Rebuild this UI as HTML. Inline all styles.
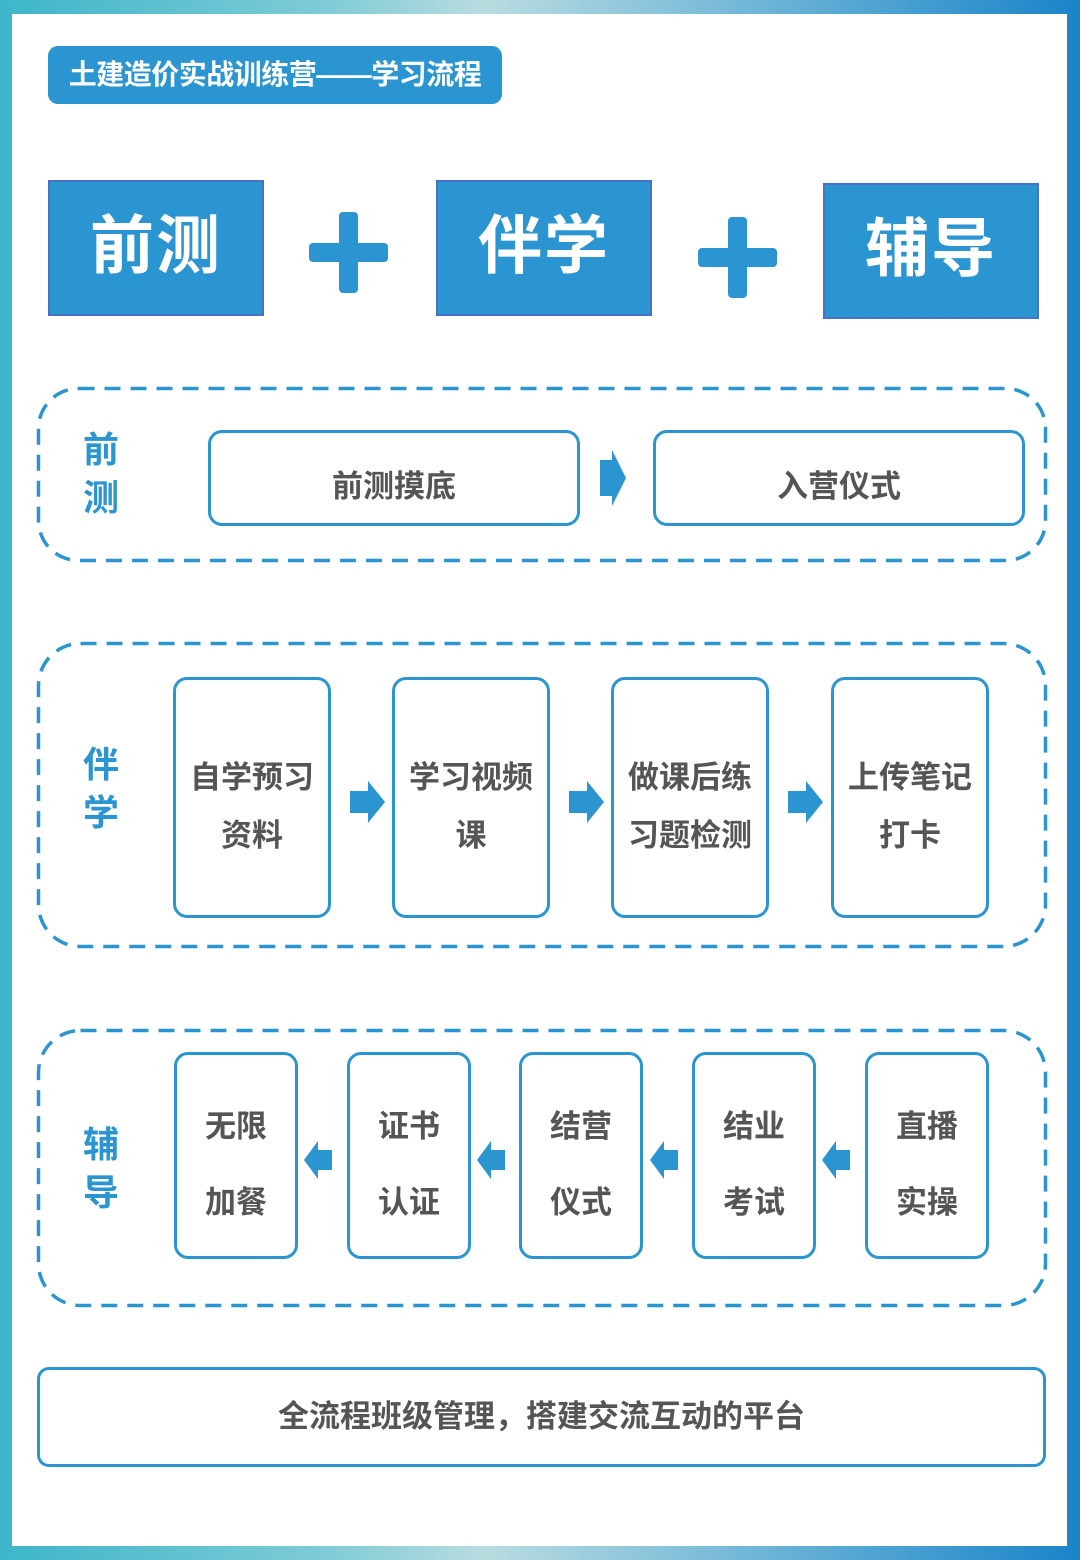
<!DOCTYPE html>
<html><head><meta charset="utf-8"><style>
*{margin:0;padding:0;box-sizing:border-box}
body{width:1080px;height:1560px;position:relative;overflow:hidden;font-family:"Liberation Sans","Noto Sans CJK SC",sans-serif;font-weight:bold;
background:linear-gradient(90deg,#3db6c9 0%,#7fcbd6 30%,#b9dce0 45%,#6fb6d8 70%,#1a84c8 100%)}
.inner{position:absolute;left:12px;top:14px;width:1055px;height:1532px;background:#fff}
.abs{position:absolute}
.hdr{left:48px;top:46px;width:454px;height:58px;background:#2a95d0;border-radius:10px;color:#fff;font-size:28px;line-height:58px;text-align:center;letter-spacing:-0.5px}
.big{height:136px;width:216px;background:#2a95d0;border:2px solid #4a72c4;color:#fff;font-size:64px;text-align:center;line-height:128px;letter-spacing:2px}
.ph{background:#2a95d0;border-radius:4px}
.lbl{color:#2a95d0;font-size:36px;line-height:48px;width:50px;text-align:center}
.box{border:3px solid #2a95d0;border-radius:14px;color:#555;font-size:31px;text-align:center;display:flex;align-items:center;justify-content:center;line-height:58px;padding-top:18px}
.box5{line-height:76px}
</style></head><body>
<div class="inner"></div>
<div class="abs hdr">土建造价实战训练营——学习流程</div>
<div class="abs big" style="left:48px;top:180px">前测</div>
<div class="abs big" style="left:436px;top:180px">伴学</div>
<div class="abs big" style="left:823px;top:183px">辅导</div>
<div class="abs ph" style="left:309px;top:243px;width:79px;height:19px"></div>
<div class="abs ph" style="left:339px;top:212px;width:19px;height:81px"></div>
<div class="abs ph" style="left:698px;top:248px;width:79px;height:19px"></div>
<div class="abs ph" style="left:728px;top:217px;width:19px;height:81px"></div>

<svg class="abs" style="left:0;top:0" width="1080" height="1560">
<g fill="none" stroke="#2a95d0" stroke-width="3.5" stroke-dasharray="16 10">
<rect x="38.5" y="388.5" width="1007" height="172" rx="40"/>
<rect x="38.5" y="643.5" width="1007" height="303" rx="42"/>
<rect x="38.5" y="1030.5" width="1007" height="275" rx="42"/>
</g></svg>

<div class="abs lbl" style="left:76px;top:426px">前<br>测</div>
<div class="abs box" style="left:208px;top:430px;width:372px;height:96px">前测摸底</div>
<div class="abs box" style="left:653px;top:430px;width:372px;height:96px">入营仪式</div>
<svg class="abs" style="left:598px;top:448px" width="32" height="60"><polygon points="2,12 14,12 14,2 28,30 14,58 14,48 2,48" fill="#2a95d0"/></svg>

<div class="abs lbl" style="left:76px;top:741px">伴<br>学</div>
<div class="abs box" style="left:173px;top:677px;width:158px;height:241px">自学预习<br>资料</div>
<div class="abs box" style="left:392px;top:677px;width:158px;height:241px">学习视频<br>课</div>
<div class="abs box" style="left:611px;top:677px;width:158px;height:241px">做课后练<br>习题检测</div>
<div class="abs box" style="left:831px;top:677px;width:158px;height:241px">上传笔记<br>打卡</div>
<svg class="abs" style="left:348px;top:780px" width="40" height="44"><polygon points="2,11 20,11 20,1 37,22 20,43 20,33 2,33" fill="#2a95d0"/></svg>
<svg class="abs" style="left:567px;top:780px" width="40" height="44"><polygon points="2,11 20,11 20,1 37,22 20,43 20,33 2,33" fill="#2a95d0"/></svg>
<svg class="abs" style="left:786px;top:780px" width="40" height="44"><polygon points="2,11 20,11 20,1 37,22 20,43 20,33 2,33" fill="#2a95d0"/></svg>

<div class="abs lbl" style="left:76px;top:1121px">辅<br>导</div>
<div class="abs box box5" style="left:174px;top:1052px;width:124px;height:207px">无限<br>加餐</div>
<div class="abs box box5" style="left:347px;top:1052px;width:124px;height:207px">证书<br>认证</div>
<div class="abs box box5" style="left:519px;top:1052px;width:124px;height:207px">结营<br>仪式</div>
<div class="abs box box5" style="left:692px;top:1052px;width:124px;height:207px">结业<br>考试</div>
<div class="abs box box5" style="left:865px;top:1052px;width:124px;height:207px">直播<br>实操</div>
<svg class="abs" style="left:302px;top:1140px" width="32" height="40"><polygon points="30,10 16,10 16,1 2,20 16,39 16,30 30,30" fill="#2a95d0"/></svg>
<svg class="abs" style="left:475px;top:1140px" width="32" height="40"><polygon points="30,10 16,10 16,1 2,20 16,39 16,30 30,30" fill="#2a95d0"/></svg>
<svg class="abs" style="left:648px;top:1140px" width="32" height="40"><polygon points="30,10 16,10 16,1 2,20 16,39 16,30 30,30" fill="#2a95d0"/></svg>
<svg class="abs" style="left:820px;top:1140px" width="32" height="40"><polygon points="30,10 16,10 16,1 2,20 16,39 16,30 30,30" fill="#2a95d0"/></svg>

<div class="abs box" style="left:37px;top:1367px;width:1009px;height:100px;border-radius:12px;padding-top:0">全流程班级管理，搭建交流互动的平台</div>
</body></html>
